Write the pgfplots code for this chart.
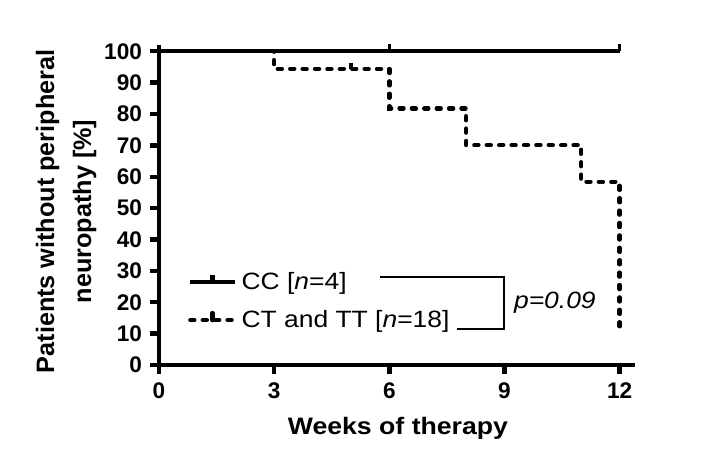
\documentclass[border=0pt]{standalone}
\usepackage{fontspec}
\setmainfont{Liberation Sans}
\newfontfamily\wide[FakeStretch=1.12]{Liberation Sans}
\usepackage{pgfplots}
\pgfplotsset{compat=1.18}
\begin{document}
\begin{tikzpicture}
\useasboundingbox (-79.5pt,-46pt) rectangle (275.5pt,182.5pt);
\begin{axis}[
  at={(0,0)}, anchor=origin, scale only axis, width=238pt, height=160pt,
  xmin=0, xmax=12.4, ymin=0, ymax=102,
  axis lines=left, axis line style={line width=2.3pt, -},
  xtick={0,3,6,9,12}, ytick={0,10,...,100},
  tick align=outside, major tick length=4.5pt, tick style={line width=2.2pt, black},
  ticklabel style={font=\fontsize{11.3}{12}\selectfont\bfseries},
  /pgf/number format/assume math mode=true,
  xticklabel style={yshift=-1pt},
  yticklabel style={xshift=-0.5pt},
  xlabel={Weeks of therapy},
  ylabel={Patients without peripheral\\neuropathy [\%]},
  xlabel style={at={(axis description cs:0.502,-0.197)}, anchor=center, font=\wide\fontsize{11.9}{14}\selectfont\bfseries},
  ylabel style={at={(axis description cs:-0.195,0.48)}, anchor=center, align=center, font=\fontsize{12.6}{18.5}\selectfont\bfseries},
  clip=false,
  legend cell align=left,
  legend style={draw=none, fill=none, at={(axis cs:0.76,20.4)}, anchor=west, inner sep=0pt, outer sep=0pt, font=\wide\fontsize{11.8}{14}\selectfont, row sep=5pt},
  legend image code/.code={\draw[#1] (0pt,0pt) -- (22.5pt,0pt); \draw[#1, solid] (11pt,0pt) -- (11pt,3.5pt);},
]
\addplot[black, line width=2.2pt] coordinates {(0,100)(12,100)};
\addlegendentry{CC [\textit{n}=4]}
\addplot[black, line width=2.2pt, line cap=round, dash pattern=on 2pt off 4.2pt] coordinates {(0,100)(3,100)(3,94.4)(6,94.4)(6,81.8)(8,81.8)(8,70.1)(11,70.1)(11,58.4)(12,58.4)(12,11.7)};
\addlegendentry{CT and TT [\textit{n}=18]}
\addplot[forget plot, only marks, mark=|, mark size=1.8pt, mark options={yshift=1.8pt, line width=1.6pt, black}] coordinates {(6,100)(12,100)};
\addplot[forget plot, only marks, mark=|, mark size=1.5pt, mark options={yshift=1.5pt, line width=1.6pt, black}] coordinates {(5,94.4)};
\draw[line width=1pt] (axis cs:5.77,28.1) -- (axis cs:9,28.1) -- (axis cs:9,11.5) -- (axis cs:7.77,11.5);
\node[anchor=west, inner sep=0pt, font=\wide\fontsize{11.8}{14}\selectfont\itshape] at (axis cs:9.24,19.7) {p=0.09};
\end{axis}
\end{tikzpicture}
\end{document}
